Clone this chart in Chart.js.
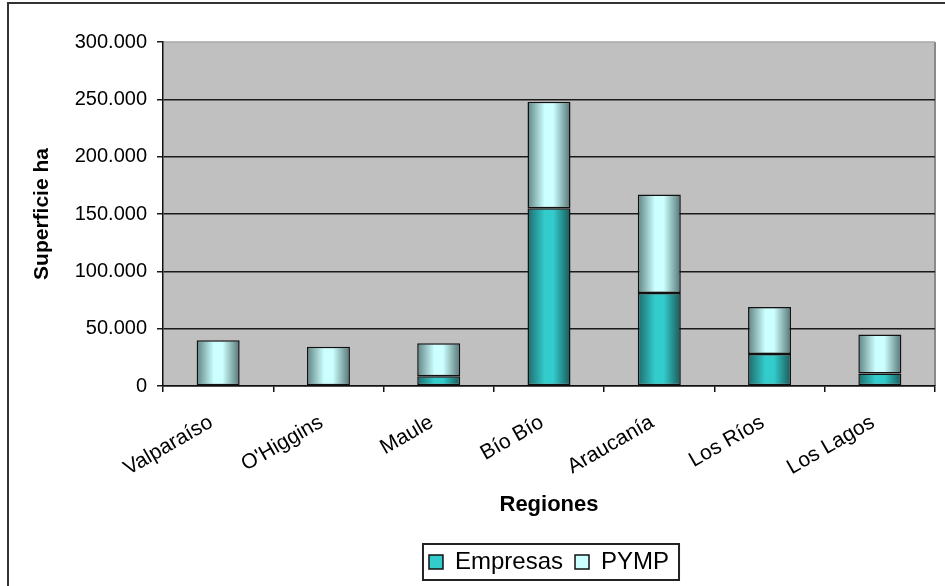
<!DOCTYPE html>
<html><head><meta charset="utf-8">
<script src="https://cdn.jsdelivr.net/npm/chart.js@4.4.1/dist/chart.umd.min.js"></script>
<style>html,body{margin:0;padding:0;background:#fff;}#wrap{width:945px;height:586px;position:relative;}</style>
</head><body><div id="wrap"><canvas id="c" width="945" height="586"></canvas></div>
<script>
const regions = ["Valparaíso", "O'Higgins", "Maule", "Bío Bío", "Araucanía", "Los Ríos", "Los Lagos"];
const empresas = [0, 0, 8500, 155000, 81000, 28000, 11000];
const pymp = [40000, 34300, 28700, 93000, 86000, 41000, 34000];
const yTickValues = [0, 50000, 100000, 150000, 200000, 250000, 300000];
const seriesNames = ["Empresas", "PYMP"];

const FONT = "'Liberation Sans', Arial, sans-serif";
const BAR_PCT = 0.39;

function barGradient(left, mid, right, solid) {
  return function (ctx) {
    const chart = ctx.chart;
    const ca = chart.chartArea;
    if (!ca || ctx.dataIndex === undefined || !chart.scales.x) return solid;
    const cx = chart.scales.x.getPixelForValue(ctx.dataIndex);
    const w = (ca.right - ca.left) / regions.length * BAR_PCT;
    const g = chart.ctx.createLinearGradient(cx - w / 2, 0, cx + w / 2, 0);
    g.addColorStop(0, left);
    g.addColorStop(0.4, mid);
    g.addColorStop(0.6, mid);
    g.addColorStop(1, right);
    return g;
  };
}

const framePlugin = {
  id: 'frame',
  beforeDraw(chart) {
    const c = chart.ctx, ca = chart.chartArea;
    c.save();
    c.fillStyle = '#fff';
    c.fillRect(0, 0, chart.width, chart.height);
    c.strokeStyle = '#333';
    c.lineWidth = 2;
    c.strokeRect(8, 3, chart.width + 20, chart.height + 20);
    c.fillStyle = '#c0c0c0';
    c.fillRect(ca.left, ca.top, ca.right - ca.left, ca.bottom - ca.top);
    c.strokeStyle = '#8a8a8a';
    c.lineWidth = 2;
    c.beginPath();
    c.moveTo(ca.right, ca.top);
    c.lineTo(ca.right, ca.bottom);
    c.stroke();
    c.strokeStyle = '#a8a8a8';
    c.lineWidth = 1.5;
    c.beginPath();
    c.moveTo(ca.left, ca.top);
    c.lineTo(ca.right, ca.top);
    c.stroke();
    c.restore();
  },
  afterDraw(chart) {
    const l = chart.legend;
    if (!l || !l.legendHitBoxes || !l.legendHitBoxes.length) return;
    const hb = l.legendHitBoxes;
    let minL = Infinity, maxR = -Infinity, top = hb[0].top, h = hb[0].height;
    hb.forEach(b => { minL = Math.min(minL, b.left); maxR = Math.max(maxR, b.left + b.width); });
    const c = chart.ctx;
    c.save();
    c.strokeStyle = '#222';
    c.lineWidth = 2;
    c.strokeRect(minL - 6, top - 6, (maxR - minL) + 16, h + 12);
    c.restore();
  }
};

new Chart(document.getElementById('c'), {
  type: 'bar',
  data: {
    labels: regions,
    datasets: [
      {
        label: seriesNames[0],
        data: empresas,
        backgroundColor: barGradient('#1f6a6a', '#33cccc', '#1a5858', '#33cccc'),
        borderColor: '#111',
        borderWidth: 1.5,
        borderSkipped: false
      },
      {
        label: seriesNames[1],
        data: pymp,
        backgroundColor: barGradient('#5f8383', '#ccffff', '#557474', '#ccffff'),
        borderColor: '#111',
        borderWidth: 1.5,
        borderSkipped: false
      }
    ]
  },
  options: {
    responsive: false,
    animation: false,
    layout: { padding: { left: 10, right: 10, top: 42, bottom: 2 } },
    datasets: { bar: { categoryPercentage: 1, barPercentage: BAR_PCT } },
    plugins: {
      tooltip: { enabled: false },
      legend: {
        position: 'bottom',
        fullSize: false,
        labels: {
          font: { family: FONT, size: 24 },
          color: '#000',
          boxWidth: 14,
          boxHeight: 14,
          padding: 12,
          generateLabels(chart) {
            const fills = ['#33cccc', '#ccffff'];
            return chart.data.datasets.map((d, i) => ({
              text: d.label,
              fillStyle: fills[i],
              strokeStyle: '#111',
              lineWidth: 1.5,
              hidden: false,
              datasetIndex: i,
              fontColor: '#000'
            }));
          }
        }
      }
    },
    scales: {
      x: {
        stacked: true,
        afterFit(scale) { scale.height = 152; },
        border: { display: true, color: '#111', width: 1.5 },
        grid: { display: true, offset: true, drawOnChartArea: false, drawTicks: true, tickLength: 6, color: '#111', lineWidth: 1.5 },
        ticks: {
          font: { family: FONT, size: 21 },
          color: '#000',
          maxRotation: 30,
          minRotation: 30,
          padding: 18,
          labelOffset: -7,
          autoSkip: false
        },
        title: {
          display: true,
          text: 'Regiones',
          font: { family: FONT, size: 22, weight: 'bold' },
          color: '#000',
          padding: { top: 0, bottom: 20 }
        }
      },
      y: {
        stacked: true,
        min: 0,
        max: 300000,
        afterFit(scale) { scale.width = 153; },
        afterBuildTicks(scale) { scale.ticks = yTickValues.map(v => ({ value: v })); },
        border: { display: true, color: '#111', width: 1.5 },
        grid: {
          drawTicks: true,
          tickLength: 6,
          lineWidth: 1.5,
          color: (ctx) => (ctx.tick && ctx.tick.value === 300000) ? 'rgba(0,0,0,0)' : '#1a1a1a',
          tickColor: '#1a1a1a'
        },
        ticks: {
          font: { family: FONT, size: 20 },
          color: '#000',
          padding: 10,
          callback: (v) => v.toLocaleString('de-DE')
        },
        title: {
          display: true,
          text: 'Superficie ha',
          font: { family: FONT, size: 21, weight: 'bold' },
          color: '#000',
          padding: { top: 20, bottom: 0 }
        }
      }
    }
  },
  plugins: [framePlugin]
});
</script></body></html>
